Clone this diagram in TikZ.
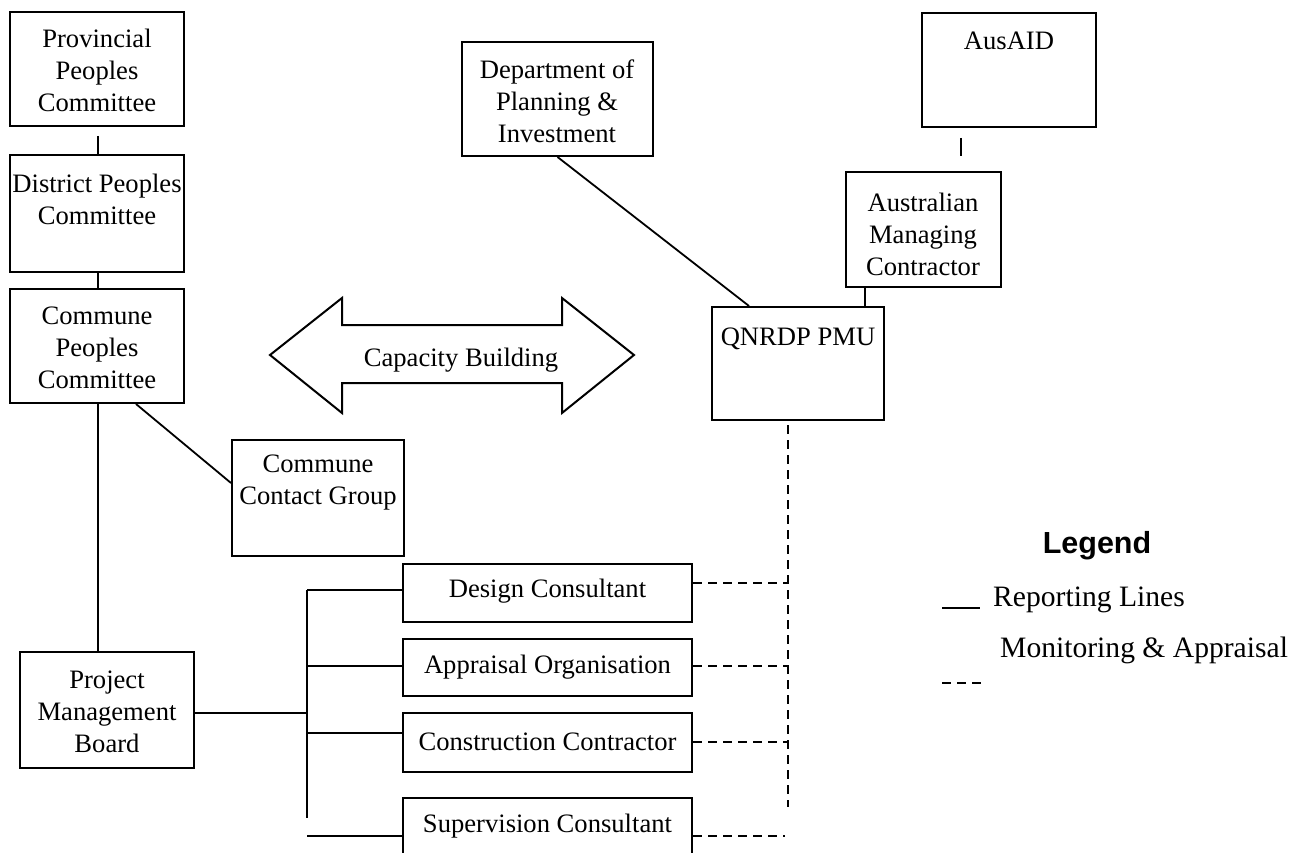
\documentclass[tikz,border=0pt]{standalone}
\usepackage{fontspec}
\setmainfont{Liberation Serif}
\newfontfamily\legfont{Liberation Sans}
\usetikzlibrary{calc}
\begin{document}
\begin{tikzpicture}[x=1pt,y=-1pt,
  box/.style={draw,line width=2pt,inner sep=0pt},
  txt/.style={align=center,inner sep=0pt,font=\fontsize{26.6}{32}\selectfont},
  legtxt/.style={inner sep=0pt,font=\fontsize{29.6}{34}\selectfont},
  conn/.style={line width=1.8pt},
  mon/.style={line width=1.8pt,dash pattern=on 9pt off 6pt}]
\useasboundingbox (0,0) rectangle (1307,853);
\fill[white] (0,0) rectangle (1307,853);

% boxes
\node[box,minimum width=174pt,minimum height=114pt] (prov) at (97,69) {};
\node[box,minimum width=174pt,minimum height=117pt] (dist) at (97,213.5) {};
\node[box,minimum width=174pt,minimum height=114pt] (comm) at (97,346) {};
\node[box,minimum width=172pt,minimum height=116pt] (ccg) at (318,498) {};
\node[box,minimum width=174pt,minimum height=116pt] (pmb) at (107,710) {};
\node[box,minimum width=191pt,minimum height=114pt] (dept) at (557.5,99) {};
\node[box,minimum width=174pt,minimum height=114pt] (ausaid) at (1009,70) {};
\node[box,minimum width=155pt,minimum height=115pt] (amc) at (923.5,229.5) {};
\node[box,minimum width=172pt,minimum height=113pt] (qnrdp) at (798,363.5) {};
\node[box,minimum width=289pt,minimum height=58pt] (design) at (547.5,593) {};
\node[box,minimum width=289pt,minimum height=57pt] (appr) at (547.5,667.5) {};
\node[box,minimum width=289pt,minimum height=59pt] (constr) at (547.5,742.5) {};
\node[box,minimum width=289pt,minimum height=60pt] (super) at (547.5,828) {};

% texts
\node[txt] (provt) at (97,70) {Provincial\\Peoples\\Committee};
\node[txt] (distt) at (97,199) {District Peoples\\Committee};
\node[txt] (commt) at (97,348) {Commune\\Peoples\\Committee};
\node[txt] (ccgt) at (318,483) {Commune\\Contact Group};
\node[txt] (pmbt) at (107,712) {Project\\Management\\Board};
\node[txt] (deptt) at (557,101) {Department of\\Planning \&\\Investment};
\node[txt,anchor=base] (ausaidt) at (1009,50) {AusAID};
\node[txt] (amct) at (923,234) {Australian\\Managing\\Contractor};
\node[txt,anchor=base] (qnrdpt) at (798,345) {QNRDP PMU};
\node[txt] (designt) at (547.5,591) {Design Consultant};
\node[txt] (apprt) at (547.5,667) {Appraisal Organisation};
\node[txt] (constrt) at (547.5,742) {Construction Contractor};
\node[txt] (supert) at (547.5,826) {Supervision Consultant};

% capacity building double arrow
\draw[line width=2pt,line join=miter] (270,355) -- (342,298) -- (342,325) -- (562,325) -- (562,298)
  -- (634,355) -- (562,413) -- (562,383) -- (342,383) -- (342,413) -- cycle;
\node[txt,anchor=base] (cap) at (461,366) {Capacity Building};

% reporting lines
\draw[conn] ($(prov.south)+(1,9)$) -- ($(dist.north)+(1,0)$);
\draw[conn] ($(dist.south)+(1,0)$) -- ($(comm.north)+(1,0)$);
\coordinate (cpv) at ($(comm.south)+(1,0)$);
\draw[conn] (cpv) -- (cpv |- pmb.north);
\draw[conn] ($(comm.south east)+(-49,0)$) -- ($(ccg.west)+(0,-15)$);
\draw[conn] (dept.south) -- ($(qnrdp.north west)+(38,0)$);
\draw[conn] ($(ausaid.south west)+(40,10)$) -- ($(amc.north west)+(116,-15)$);
\draw[conn] ($(amc.south west)+(20,0)$) -- ($(qnrdp.north west)+(154,0)$);

\coordinate (bktop) at (307,590);
\coordinate (bkmid) at (307,713);
\coordinate (bkc) at (307,733);
\coordinate (bka) at (307,666);
\coordinate (bkbot) at (307,818);
\coordinate (bks) at (307,836);
\draw[conn] (bktop) -- (bkbot);
\draw[conn] (pmb.east |- bkmid) -- (bkmid);
\draw[conn] (bktop) -- (bktop -| design.west);
\draw[conn] (bka) -- (bka -| appr.west);
\draw[conn] (bkc) -- (bkc -| constr.west);
\draw[conn] (bks) -- (bks -| super.west);

% monitoring lines
\coordinate (dtop) at (788,425);
\coordinate (dbot) at (788,807);
\draw[mon] (dtop) -- (dbot);
\coordinate (dd) at (788,583);
\coordinate (da) at (788,666);
\coordinate (dc) at (788,742);
\coordinate (sdash) at (785,836);
\draw[mon] (design.east |- dd) -- (dd);
\draw[mon] (appr.east |- da) -- (da);
\draw[mon] (constr.east |- dc) -- (dc);
\draw[mon] (super.east |- sdash) -- (sdash);

% legend
\node[inner sep=0pt,anchor=base,font=\legfont\bfseries\fontsize{30.5}{36}\selectfont] (leg) at (1097,553) {Legend};
\coordinate (l1a) at (942,608);
\coordinate (l1b) at (980,608);
\draw[line width=2pt] (l1a) -- (l1b);
\node[legtxt,anchor=base west] (rep) at (993,606) {Reporting Lines};
\node[legtxt,anchor=base west] (monl) at (1000,657) {Monitoring \& Appraisal};
\coordinate (l2a) at (942,683);
\coordinate (l2b) at (981,683);
\draw[line width=1.8pt,dash pattern=on 9pt off 6pt] (l2a) -- (l2b);
\end{tikzpicture}
\end{document}
